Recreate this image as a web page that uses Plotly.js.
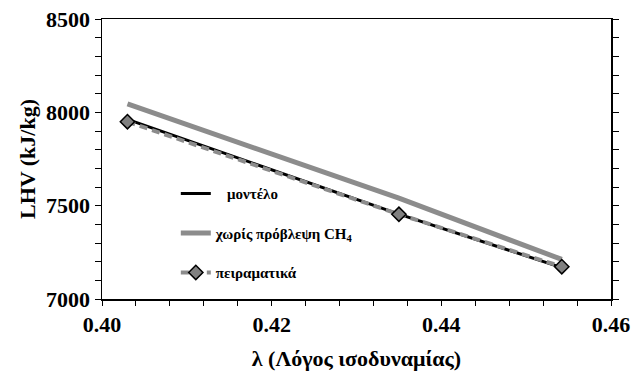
<!DOCTYPE html>
<html>
<head>
<meta charset="utf-8">
<script src="https://cdn.plot.ly/plotly-3.0.1.min.js"></script>
<style>html,body{margin:0;padding:0;background:#fff;}#chart{width:631px;height:379px;}</style>
</head>
<body>
<div id="chart"></div>
<script>
var lambdaVals = [0.4030, 0.4350, 0.4542];
var modelVals = [7962, 7455, 7168];
var noCH4Vals = [8045, 7540, 7212];
var expVals = [7950, 7454, 7173];

var seriesNames = ['\u00a0\u00a0\u00a0<b>μοντέλο</b>', '<b>χωρίς πρόβλεψη CH<sub>4</sub></b>', '<b>πειραματικά</b>'];

var serif = 'Liberation Serif, Times New Roman, serif';

var traces = [
  {x: lambdaVals, y: noCH4Vals, mode: 'lines', name: seriesNames[1], legendrank: 2, legendgroup: 'b',
   line: {color: '#8c8c8c', width: 5}},
  {x: lambdaVals, y: modelVals, mode: 'lines', name: seriesNames[0], legendrank: 1, legendgroup: 'a',
   line: {color: '#000000', width: 3}},
  {x: lambdaVals, y: expVals, mode: 'lines+markers', name: seriesNames[2], legendrank: 3, legendgroup: 'c',
   line: {color: '#8c8c8c', width: 4, dash: '8px,5px'},
   marker: {symbol: 'diamond', size: 11, color: '#808080', line: {color: '#000', width: 1.5}}}
];

var layout = {
  width: 631, height: 379,
  margin: {l: 102, r: 20, t: 19, b: 80},
  paper_bgcolor: '#fff', plot_bgcolor: '#fff',
  font: {family: serif, color: '#000', weight: 700},
  showlegend: true,
  legend: {x: 0.145, y: 0.435, xanchor: 'left', yanchor: 'top', bgcolor: 'rgba(0,0,0,0)',
    font: {family: serif, size: 15, color: '#000', weight: 700}, tracegroupgap: 17, itemwidth: 30},
  xaxis: {
    range: [0.40, 0.46], dtick: 0.02, tickformat: '.2f',
    showline: true, linecolor: '#000', linewidth: 1.5, mirror: true,
    ticks: 'outside', ticklen: 5, tickcolor: '#000',
    minor: {dtick: 0.004, ticks: 'outside', ticklen: 5, tickcolor: '#000'},
    showgrid: false, zeroline: false,
    tickfont: {family: serif, size: 22, color: '#000', weight: 700},
    title: {text: 'λ (Λόγος ισοδυναμίας)', font: {family: serif, size: 22, color: '#000', weight: 700}, standoff: 14}
  },
  yaxis: {
    range: [7000, 8500], dtick: 500,
    showline: true, linecolor: '#000', linewidth: 1.5, mirror: 'ticks',
    ticks: 'outside', ticklen: 6, tickcolor: '#000',
    minor: {dtick: 100, ticks: 'outside', ticklen: 6, tickcolor: '#000'},
    showgrid: false, zeroline: false,
    tickfont: {family: serif, size: 22, color: '#000', weight: 700},
    title: {text: 'LHV (kJ/kg)', font: {family: serif, size: 22, color: '#000', weight: 700}, standoff: 4}
  }
};

Plotly.newPlot('chart', traces, layout, {staticPlot: true, displayModeBar: false});
</script>
</body>
</html>
